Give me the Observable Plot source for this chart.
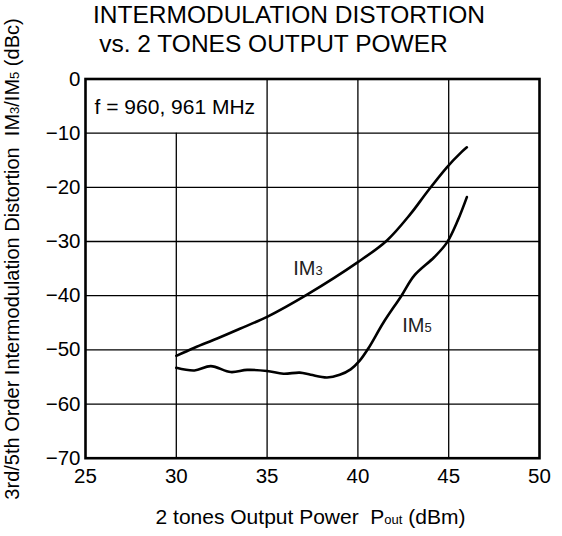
<!DOCTYPE html>
<html><head><meta charset="utf-8">
<script src="https://cdn.jsdelivr.net/npm/d3@7"></script>
<script src="https://cdn.jsdelivr.net/npm/@observablehq/plot@0.6"></script>
<style>body{margin:0;background:#fff} svg{display:block}</style>
</head><body><div id="chart"></div>
<script>
// Data
const xTicks = [25, 30, 35, 40, 45, 50];
const yTicks = [0, -10, -20, -30, -40, -50, -60, -70];
const im3Power = [30.0, 31.0, 32.25, 33.5, 35.0, 37.2, 40.0, 41.6, 42.9, 43.8, 44.9, 45.7, 46.0];
const im3Dist  = [-51.1, -49.6, -47.9, -46.1, -43.9, -39.8, -33.8, -29.8, -24.9, -20.9, -16.3, -13.5, -12.6];
const im5Power = [30.0, 31.0, 31.9, 33.0, 33.9, 35.0, 35.9, 36.8, 37.4, 38.3, 39.0, 39.6, 40.1, 40.6, 41.4, 42.4, 43.1, 44.2, 44.9, 45.5, 46.0];
const im5Dist  = [-53.3, -53.8, -53.0, -54.1, -53.7, -53.9, -54.4, -54.2, -54.6, -55.1, -54.6, -53.6, -52.0, -49.6, -45.0, -40.0, -36.3, -32.9, -30.2, -26.1, -21.8];
const seriesLabels = [
  {name: "IM3", x: 36.44, y: -35.0},
  {name: "IM5", x: 42.44, y: -45.5}
];
const noteText = "f = 960, 961 MHz";
const titleLines = ["INTERMODULATION DISTORTION", "vs. 2 TONES OUTPUT POWER"];

const im3 = im3Power.map((p, i) => ({p, d: im3Dist[i]}));
const im5 = im5Power.map((p, i) => ({p, d: im5Dist[i]}));
const FONT = "'Liberation Sans', Arial, Helvetica, sans-serif";

const plot = Plot.plot({
  width: 562, height: 536,
  marginLeft: 85, marginRight: 23, marginTop: 78.5, marginBottom: 78.3,
  style: {fontFamily: FONT, fontSize: "20.5px", color: "#000", background: "#fff"},
  x: {domain: [25, 50], ticks: xTicks, tickSize: 0, tickPadding: 10, label: null},
  y: {domain: [-70, 0], ticks: yTicks, tickSize: 0, tickPadding: 5, label: null},
  marks: [
    Plot.ruleY(yTicks.slice(1, -1), {stroke: "#000", strokeWidth: 1.3}),
    Plot.ruleX(xTicks.slice(2, -1), {stroke: "#000", strokeWidth: 1.3}),
    Plot.ruleX([xTicks[1]], {y1: -10, y2: -70, stroke: "#000", strokeWidth: 1.3}),
    Plot.line(im3, {x: "p", y: "d", curve: "catmull-rom", stroke: "#000", strokeWidth: 2.6}),
    Plot.line(im5, {x: "p", y: "d", curve: "catmull-rom", stroke: "#000", strokeWidth: 2.6}),
    Plot.text(seriesLabels, {x: "x", y: "y", text: "name", textAnchor: "start", fontSize: 20, fill: "#222"}),
    Plot.text([noteText], {x: 25.5, y: -5.3, text: d => d, textAnchor: "start", fontSize: 21, fill: "#000"}),
    Plot.frame({stroke: "#000", strokeWidth: 2.6})
  ]
});
document.getElementById("chart").appendChild(plot);

const svg = d3.select(plot);
// subscripts for IM3 / IM5 labels
svg.selectAll("text").each(function() {
  const t = this.textContent;
  if (t === "IM3" || t === "IM5") {
    const el = d3.select(this);
    el.text("IM");
    el.append("tspan").attr("font-size", 13).text(t.slice(2));
  }
});

// titles
const title = svg.append("g").attr("font-family", FONT).attr("fill", "#000").attr("font-size", 24.5);
title.append("text").attr("x", 289).attr("y", 23).attr("text-anchor", "middle").text(titleLines[0]);
title.append("text").attr("x", 273.5).attr("y", 51.5).attr("text-anchor", "middle").text(titleLines[1]);

// x axis label
const xl = svg.append("text").attr("font-family", FONT).attr("font-size", 21).attr("fill", "#000")
  .attr("x", 310.5).attr("y", 524).attr("text-anchor", "middle").style("white-space", "pre");
xl.append("tspan").text("2 tones Output Power  P");
xl.append("tspan").attr("font-size", 13).text("out");
xl.append("tspan").text(" (dBm)");

// y axis label
const yl = svg.append("text").attr("font-family", FONT).attr("font-size", 20).attr("fill", "#000")
  .attr("transform", "translate(19,259) rotate(-90)").attr("text-anchor", "middle").style("white-space", "pre");
yl.append("tspan").text("3rd/5th Order Intermodulation Distortion  IM");
yl.append("tspan").attr("font-size", 13).text("3");
yl.append("tspan").text("/IM");
yl.append("tspan").attr("font-size", 13).text("5");
yl.append("tspan").text(" (dBc)");
</script>
</body></html>
